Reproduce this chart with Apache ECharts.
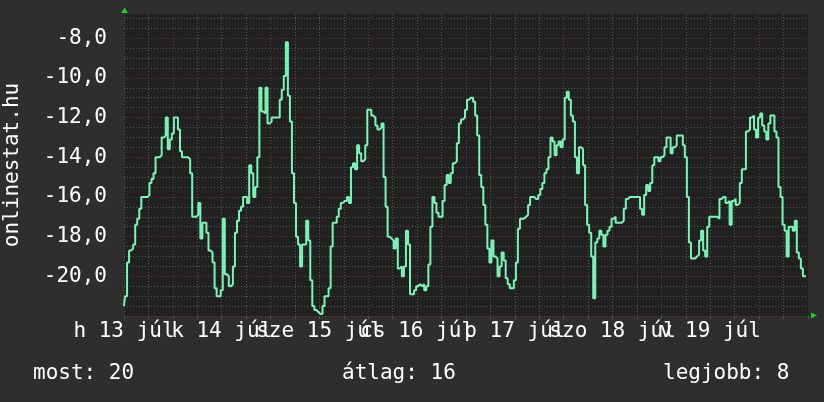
<!DOCTYPE html>
<html><head><meta charset="utf-8">
<script src="https://cdn.jsdelivr.net/npm/echarts@6/dist/echarts.min.js"></script>
<style>html,body{margin:0;padding:0;background:#2e2e2e}#c{width:824px;height:402px}</style>
</head><body><div id="c"></div>
<script>
// half-hourly ranks, Monday 13 July 00:00 onwards
const day1 = [-21.5,-21,-19.3,-18.7,-18.6,-18.4,-17.4,-17.1,-16.6,-16,-16,-16,-15.9,-15.3,-15.1,-14.8,-14,-14,-13.9,-13,-12.9,-12,-13.6,-13.1,-12.8,-12,-12,-12.6,-13.7,-14,-14,-14,-14.1,-14.8,-17,-17,-16.9,-16.3,-18.1,-17.3,-17.3,-17.8,-18.7,-18.8,-19.3,-20.6,-21,-21];
const day2 = [-20.7,-17.1,-19.9,-20,-20.5,-20.4,-19.5,-17.8,-17.2,-16.7,-16.5,-16,-16,-16.3,-14.4,-14.8,-16,-15.5,-14,-10.5,-11.7,-11.8,-10.5,-12.3,-12.2,-12,-12,-12,-12,-11.1,-10.6,-9.9,-8.2,-10.9,-12.2,-14.8,-16.3,-18,-18.4,-19.5,-18.4,-18.4,-17.2,-18.2,-20.2,-21.5,-21.7,-21.8];
const day3 = [-21.9,-21.9,-21.5,-21,-21,-20.6,-18.5,-17.3,-17.3,-17,-16.6,-16.3,-16.2,-16.2,-16,-16.3,-14.5,-14.3,-14.6,-13.4,-13.8,-14.2,-14.1,-13.4,-11.6,-11.6,-11.9,-12,-12.4,-12.6,-12.5,-12.3,-15,-16.5,-18,-18.1,-18.2,-18.6,-18.1,-19.6,-19.5,-20,-19.5,-17.7,-18.4,-20.9,-20.9,-20.7];
const day4 = [-20.5,-20.4,-20.5,-20.4,-20.7,-20.5,-19.4,-17.5,-16,-16.3,-16.8,-17,-17,-16.2,-15.4,-14.9,-15.3,-14.8,-14.3,-14.2,-13.3,-12.3,-12.1,-12,-11.6,-11.1,-11,-11,-11.2,-11.9,-12.9,-14.9,-15.5,-16.4,-17.4,-18.6,-19.3,-18.2,-19,-19.1,-20,-19.5,-18.8,-19.2,-20.1,-20.4,-20.6,-20.6];
const day5 = [-20.2,-19.3,-17.6,-17.1,-17.1,-17,-16.9,-16.4,-16,-16,-16.1,-16.1,-15.9,-15.6,-15.3,-14.8,-14.6,-14,-13,-13.2,-13.9,-13.4,-13.2,-13.5,-13.1,-11,-10.7,-11.1,-11.9,-12.2,-14,-14.8,-13.5,-13.6,-14.4,-16.4,-17.4,-17.8,-19,-21.1,-18.3,-18.1,-17.7,-17.9,-18.5,-17.9,-17.7,-17.5];
const day6 = [-17.1,-17,-17.3,-17.3,-17.3,-17.2,-16.6,-16.1,-16,-16,-16,-16,-16,-16,-16.6,-16.9,-15.9,-15.4,-15.7,-15.3,-14.4,-14,-14,-14.2,-14,-13.9,-13.5,-13,-13,-13.8,-13.5,-13.4,-12.9,-12.9,-12.9,-13.4,-14,-16,-18.3,-19.1,-19.1,-19,-18.9,-18.2,-17.7,-18.7,-19,-17.5];
const day7 = [-17,-17,-17,-17,-17.1,-16.1,-16,-16,-16.3,-16.2,-17.4,-16.2,-16.1,-16.4,-16.3,-15.3,-14.6,-14.6,-12.7,-12.6,-12,-11.9,-12.6,-13,-12,-11.8,-12.4,-12.7,-13.1,-12.3,-11.9,-11.9,-12.7,-13,-15.5,-16,-17.4,-17.7,-19,-17.5,-17.5,-17.7,-17.2,-18.8,-19.1,-19.6,-20,-20];
const dayLabels = ['h 13 júl','k 14 júl','sze 15 júl','cs 16 júl','p 17 júl','szo 18 júl','v 19 júl'];
const yTickValues = [-20,-18,-16,-14,-12,-10,-8];
const statTexts = ['most: 20','átlag: 16','legjobb: 8'];
const axisName = 'onlinestat.hu';

const values = [].concat(day1, day2, day3, day4, day5, day6, day7);
const sampleHours = 0.5;
const points = values.map((v, i) => [i * sampleHours, v]);

const FONT = 'DejaVu Sans Mono';
const FS = 21;
const GRAY = '#575757', RED = '#6e3434';
const chart = echarts.init(document.getElementById('c'), null, {renderer: 'canvas'});
chart.setOption({
  backgroundColor: '#2e2e2e',
  animation: false,
  grid: {left: 124, top: 14, width: 684, height: 302, show: true, backgroundColor: '#212121', borderWidth: 0, containLabel: false, outerBoundsMode: 'none'},
  xAxis: {
    type: 'value', min: 0, max: 168, interval: 6,
    axisLine: {show: false},
    axisTick: {show: true, length: 3, lineStyle: {color: GRAY}},
    axisLabel: {
      color: '#ffffff', fontFamily: FONT, fontSize: FS, margin: 5,
      showMinLabel: true, showMaxLabel: true, hideOverlap: false,
      formatter: v => (v % 24 === 0 && v / 24 < dayLabels.length) ? dayLabels[v / 24] : ''
    },
    splitLine: {show: true, showMinLine: true, showMaxLine: false,
      lineStyle: {type: [1, 2], width: 1, color: [GRAY, GRAY, RED, GRAY]}}
  },
  yAxis: {
    type: 'value', min: -22, max: -6.78, interval: 0.5,
    name: axisName, nameLocation: 'middle', nameGap: 101,
    nameTextStyle: {color: '#ffffff', fontFamily: FONT, fontSize: FS},
    axisLine: {show: false},
    axisTick: {show: false},
    axisLabel: {
      color: '#ffffff', fontFamily: FONT, fontSize: FS, margin: 17,
      formatter: v => yTickValues.indexOf(v) >= 0 ? v.toFixed(1).replace('.', ',') : ''
    },
    splitLine: {show: true, showMinLine: true, showMaxLine: false,
      lineStyle: {type: [1, 2], width: 1, color: [RED, GRAY, GRAY, GRAY]}}
  },
  series: [{
    type: 'line', data: points, showSymbol: false, symbol: 'none', step: 'middle',
    lineStyle: {color: '#78f5b7', width: 2}, z: 5
  }],
  graphic: [
    {type: 'polygon', shape: {points: [[124.5, 7.5], [121, 13], [128, 13]]}, style: {fill: '#1ed01e'}},
    {type: 'polygon', shape: {points: [[811, 312.5], [817, 315.5], [811, 318.5]]}, style: {fill: '#1ed01e'}},
    {type: 'text', left: 33, top: 363, style: {text: statTexts[0], fill: '#fff', font: FS + 'px ' + FONT}},
    {type: 'text', left: 342, top: 363, style: {text: statTexts[1], fill: '#fff', font: FS + 'px ' + FONT}},
    {type: 'text', left: 663, top: 363, style: {text: statTexts[2], fill: '#fff', font: FS + 'px ' + FONT}}
  ]
});
</script></body></html>
